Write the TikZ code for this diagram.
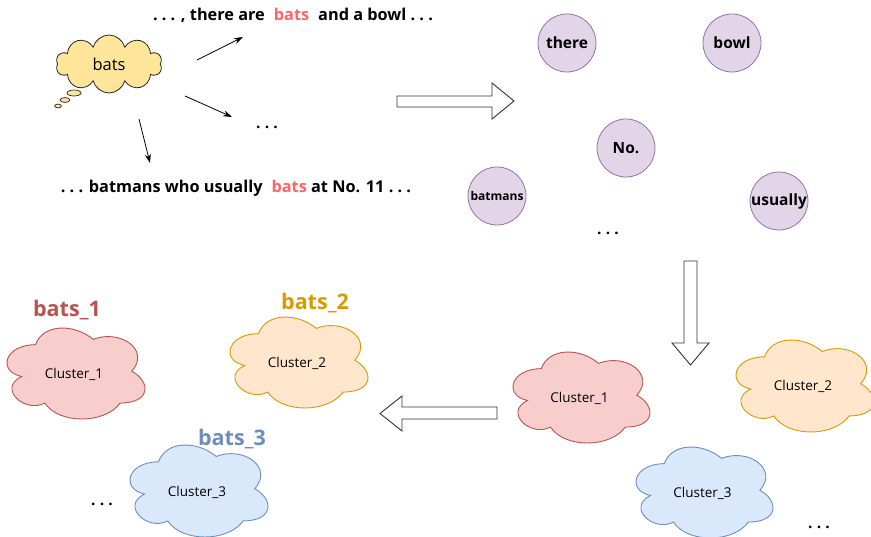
\documentclass[tikz,border=0pt]{standalone}
\usepackage{fontspec}
\setmainfont{Open Sans}
\usetikzlibrary{shapes.symbols,arrows.meta}

\definecolor{batred}{HTML}{FF6666}
\definecolor{thoughtfill}{HTML}{FFE599}
\definecolor{wordfill}{HTML}{E1D5E7}
\definecolor{wordline}{HTML}{9673A6}
\definecolor{redfill}{HTML}{F8CECC}
\definecolor{redline}{HTML}{B85450}
\definecolor{orangefill}{HTML}{FFE6CC}
\definecolor{orangeline}{HTML}{D79B00}
\definecolor{bluefill}{HTML}{DAE8FC}
\definecolor{blueline}{HTML}{6C8EBF}
\definecolor{arrowline}{HTML}{333333}

% widely spaced ellipsis
\newcommand\ellip{.\kern4.2pt.\kern4.2pt.}
\newcommand\wgap{\hspace{9pt}}

\tikzset{
  sentence/.style={font=\fontsize{16.3}{19}\selectfont\bfseries, inner sep=0pt},
  dots/.style={font=\fontsize{15.5}{18}\selectfont\bfseries, inner sep=0pt},
  word/.style={circle, draw=wordline, fill=wordfill, line width=0.8pt,
    minimum size=58pt, inner sep=0pt, font=\fontsize{15.5}{17}\selectfont\bfseries},
  clustertext/.style={font=\fontsize{13.5}{15}\selectfont, inner sep=0pt},
  clusterlabel/.style={font=\fontsize{21.5}{24}\selectfont\bfseries, inner sep=0pt},
  pointer/.style={-{Stealth[length=9pt,width=6pt]}, line width=0.8pt},
  hollowarrow/.style={draw=arrowline, fill=white, line width=0.9pt, line join=miter},
  redcloud/.style={draw=redline, fill=redfill, line width=0.9pt},
  orangecloud/.style={draw=orangeline, fill=orangefill, line width=0.9pt},
  bluecloud/.style={draw=blueline, fill=bluefill, line width=0.9pt},
}

% cloud outline fitted to its visible extent #4..#6 (x) and #5..#7 (y)
\newcommand\cloudblob[7]{%
  \pgfmathsetmacro\cbw{(#6-#4)/0.896}%
  \pgfmathsetmacro\cbh{(#7-#5)/0.857}%
  \pgfmathsetmacro\cbx{#4-0.065*\cbw}%
  \pgfmathsetmacro\cby{#5-0.093*\cbh}%
  \begin{scope}[shift={(\cbx,\cby)}, x=\cbw pt, y=-\cbh pt]
    \draw[#1] (0.25,0.25) .. controls (0.05,0.25) and (0,0.5) .. (0.16,0.55)
      .. controls (0,0.66) and (0.18,0.9) .. (0.31,0.8)
      .. controls (0.4,1) and (0.7,1) .. (0.8,0.8)
      .. controls (1,0.8) and (1,0.6) .. (0.875,0.5)
      .. controls (1,0.3) and (0.8,0.1) .. (0.625,0.2)
      .. controls (0.5,0.05) and (0.3,0.05) .. (0.25,0.25) -- cycle;
    \node[clustertext] (#2) at (0.5,0.53) {#3};
  \end{scope}}

\begin{document}
\begin{tikzpicture}[x=1pt, y=-1pt]
\useasboundingbox (0,0) rectangle (871,537);

% thought bubble with the ambiguous word
\node[cloud, cloud puffs=10, aspect=1.9, draw=black!85, fill=thoughtfill,
  line width=0.8pt, minimum width=106pt, minimum height=58pt, inner sep=0pt,
  font=\fontsize{16.5}{18}\selectfont] (bats) at (109,64) {bats};
\draw[draw=black!85, fill=thoughtfill, line width=0.7pt] (74,93) ellipse [x radius=7, y radius=3];
\draw[draw=black!85, fill=thoughtfill, line width=0.7pt] (65,100) ellipse [x radius=5, y radius=2.4];
\draw[draw=black!85, fill=thoughtfill, line width=0.7pt] (58,106) ellipse [x radius=3.4, y radius=1.9];

% example contexts
\node[sentence] (ctx1) at (293,15) {\ellip{} , there are\wgap\textcolor{batred}{bats}\wgap and a bowl \ellip};
\node[dots] (ctx2) at (267,127) {\ellip};
\node[sentence] (ctx3) at (236,188) {\ellip{} batmans who usually\wgap\textcolor{batred}{bats} at No. 11 \ellip};

\coordinate (p1s) at (197,60);  \coordinate (p1e) at (243,37);
\coordinate (p2s) at (185,96);  \coordinate (p2e) at (232,117);
\coordinate (p3s) at (139,119); \coordinate (p3e) at (150,163);
\draw[pointer] (p1s) -- (p1e);
\draw[pointer] (p2s) -- (p2e);
\draw[pointer] (p3s) -- (p3e);

% step arrows
\draw[hollowarrow] (397,96) -- (492,96) -- (492,83) -- (514,101) -- (492,119)
  -- (492,107) -- (397,107) -- cycle;
\draw[hollowarrow] (684,261) -- (697,261) -- (697,343) -- (709,343) -- (690.5,365)
  -- (672,343) -- (684,343) -- cycle;
\draw[hollowarrow] (497,407) -- (402,407) -- (402,396) -- (380,413.5) -- (402,431)
  -- (402,419) -- (497,419) -- cycle;

% context words
\node[word] (w-there) at (567,43) {there};
\node[word] (w-bowl) at (732,43) {bowl};
\node[word] (w-no) at (626,148) {No.};
\node[word, font=\fontsize{12}{14}\selectfont\bfseries] (w-batmans) at (497,196) {batmans};
\node[word] (w-usually) at (779,201) {usually};
\node[dots] (w-more) at (608,233) {\ellip};

% clusters of contexts
\cloudblob{redcloud}{rc1}{Cluster\_1}{513}{352}{650}{443}
\cloudblob{orangecloud}{rc2}{Cluster\_2}{736}{340}{874}{432}
\cloudblob{bluecloud}{rc3}{Cluster\_3}{636}{447}{773}{538}
\node[dots] (rc-more) at (819,527) {\ellip};

% senses
\cloudblob{redcloud}{lc1}{Cluster\_1}{7}{328}{145}{419}
\cloudblob{orangecloud}{lc2}{Cluster\_2}{230}{317}{368}{408}
\cloudblob{bluecloud}{lc3}{Cluster\_3}{130}{445}{268}{537}
\node[dots] (lc-more) at (102,504) {\ellip};

\node[clusterlabel, text=redline] (s1) at (67,310) {bats\_1};
\node[clusterlabel, text=orangeline] (s2) at (315,303) {bats\_2};
\node[clusterlabel, text=blueline] (s3) at (232,439) {bats\_3};
\end{tikzpicture}
\end{document}
